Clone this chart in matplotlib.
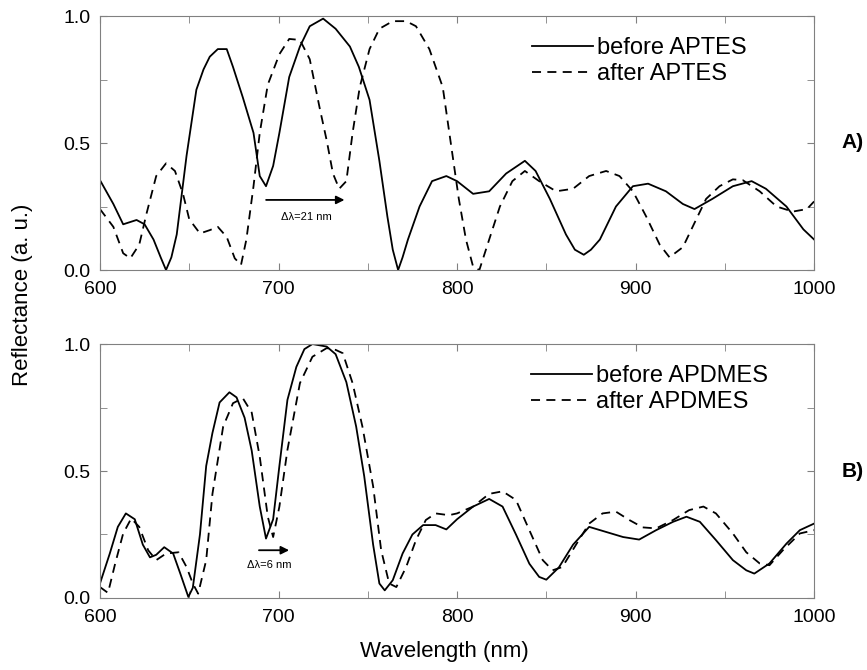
import matplotlib.pyplot as plt
from matplotlib.ticker import MultipleLocator

plt.rcParams['font.family'] = ['Liberation Sans', 'DejaVu Sans']

# ---- panel A: APTES ----
wl_a_before = [600, 607.5, 613, 620.5, 625, 630, 634, 637, 640, 643, 648.5, 654, 658, 661.5,
               666, 671, 674.5, 680, 686, 689.5, 693, 697, 700.5, 706, 712, 717.5, 725,
               732, 740, 745, 751, 756.5, 761, 764, 767, 769.5, 772.5, 779, 786, 794, 800,
               809, 818, 827.5, 838, 844, 852, 861, 866, 871, 875, 880, 889, 898.5, 907,
               917, 926.5, 933, 943, 954.5, 965, 973, 984.5, 994, 1000]
r_a_before = [0.354, 0.26, 0.18, 0.197, 0.18, 0.12, 0.05, 0.0, 0.05, 0.14, 0.45, 0.71, 0.79,
              0.84, 0.87, 0.87, 0.80, 0.68, 0.54, 0.37, 0.33, 0.41, 0.54, 0.76, 0.88, 0.96,
              0.99, 0.95, 0.88, 0.80, 0.67, 0.43, 0.21, 0.08, 0.0, 0.05, 0.12, 0.25, 0.35,
              0.37, 0.35, 0.30, 0.31, 0.38, 0.43, 0.39, 0.28, 0.14, 0.08, 0.06, 0.08, 0.12,
              0.25, 0.33, 0.34, 0.31, 0.26, 0.24, 0.28, 0.33, 0.35, 0.32, 0.25, 0.16, 0.12]

wl_a_after = [600, 607.5, 613, 617, 622, 626, 631.5, 637, 642, 646.5, 650, 656, 661.5, 666,
              671, 675.5, 679, 682, 686, 689.5, 694, 700.5, 706, 712, 717.5, 723, 727,
              730.5, 734, 738, 741.5, 745.5, 751, 756.5, 764, 771.5, 777, 784.5, 792,
              796.5, 801, 805, 809, 812.5, 818, 824, 831, 838, 846, 855.5, 865, 874,
              883.5, 891, 898.5, 906, 913.5, 919, 926.5, 934, 939.5, 947, 954.5, 960,
              969.5, 979, 988, 996, 1000]
r_a_after = [0.24, 0.17, 0.066, 0.046, 0.10, 0.22, 0.37, 0.42, 0.39, 0.30, 0.20, 0.144, 0.157,
             0.17, 0.13, 0.046, 0.02, 0.12, 0.33, 0.54, 0.73, 0.85, 0.91, 0.906, 0.83, 0.64,
             0.51, 0.38, 0.32, 0.35, 0.54, 0.72, 0.87, 0.95, 0.98, 0.98, 0.96, 0.87, 0.72,
             0.50, 0.28, 0.12, 0.013, 0.0, 0.12, 0.25, 0.35, 0.39, 0.35, 0.31, 0.32, 0.37,
             0.39, 0.37, 0.31, 0.21, 0.10, 0.05, 0.09, 0.20, 0.28, 0.33, 0.357, 0.354,
             0.31, 0.25, 0.23, 0.24, 0.27]

# ---- panel B: APDMES ----
wl_b_before = [600, 605.5, 610, 614.5, 619.5, 624, 628, 631.5, 636, 641, 645, 649.5, 652,
               656, 659.5, 663, 667, 672.5, 676.5, 681, 685, 689.5, 693, 697, 700.5, 705,
               710, 714.5, 719, 727, 732, 738, 743.5, 748, 753, 756.5, 759.5, 764, 769.5,
               775, 781, 788, 794, 800, 809, 818, 825.5, 833, 840.5, 846, 850, 857, 865,
               874, 883.5, 893, 902, 911.5, 921, 928.5, 936, 945, 954.5, 962, 966.5, 975,
               984.5, 992, 1000]
r_b_before = [0.057, 0.175, 0.28, 0.333, 0.31, 0.21, 0.16, 0.17, 0.20, 0.175, 0.096, 0.004,
              0.04, 0.25, 0.52, 0.65, 0.77, 0.81, 0.79, 0.71, 0.58, 0.36, 0.234, 0.31, 0.52,
              0.78, 0.91, 0.98, 1.0, 0.99, 0.96, 0.85, 0.675, 0.48, 0.21, 0.057, 0.03, 0.07,
              0.175, 0.25, 0.287, 0.287, 0.27, 0.31, 0.36, 0.39, 0.36, 0.25, 0.135, 0.083,
              0.072, 0.12, 0.21, 0.28, 0.26, 0.24, 0.23, 0.267, 0.30, 0.32, 0.30, 0.228,
              0.149, 0.109, 0.096, 0.136, 0.214, 0.267, 0.293]

wl_b_after = [600, 604.5, 608.5, 613, 617.5, 622, 627, 631.5, 637, 644, 648.5, 652, 655,
              659.5, 663, 669, 674.5, 680, 685, 689.5, 694, 697, 700.5, 705, 712, 719,
              727, 732, 736, 741.5, 747, 753, 757.5, 762, 766, 771.5, 777, 782.5, 788,
              795.5, 800, 809, 818, 825.5, 833, 840.5, 848, 853.5, 859, 867, 874, 881.5,
              889, 896.5, 904, 911.5, 921, 930, 938, 945, 954.5, 962, 969.5, 975, 982.5,
              992, 1000]
r_b_after = [0.043, 0.02, 0.135, 0.254, 0.313, 0.28, 0.188, 0.149, 0.175, 0.18, 0.122, 0.057,
             0.017, 0.149, 0.41, 0.675, 0.767, 0.787, 0.73, 0.556, 0.32, 0.24, 0.36, 0.583,
             0.846, 0.95, 0.984, 0.977, 0.964, 0.846, 0.675, 0.44, 0.188, 0.057, 0.043,
             0.122, 0.228, 0.307, 0.333, 0.326, 0.333, 0.36, 0.41, 0.42, 0.386, 0.267,
             0.149, 0.109, 0.122, 0.214, 0.293, 0.333, 0.34, 0.307, 0.278, 0.274, 0.307,
             0.346, 0.36, 0.333, 0.254, 0.18, 0.136, 0.129, 0.188, 0.254, 0.267]

fig = plt.figure(figsize=(8.67, 6.7), dpi=100)
ax1 = fig.add_axes([0.1153, 0.597, 0.8237, 0.379])
ax2 = fig.add_axes([0.1153, 0.1075, 0.8237, 0.379])

dash = (0, (5, 3.5))
ax1.plot(wl_a_before, r_a_before, color='black', lw=1.3, label='before APTES')
ax1.plot(wl_a_after, r_a_after, color='black', lw=1.3, ls=dash, label='after APTES')
ax2.plot(wl_b_before, r_b_before, color='black', lw=1.3, label='before APDMES')
ax2.plot(wl_b_after, r_b_after, color='black', lw=1.3, ls=dash, label='after APDMES')

for ax, anchor_x in ((ax1, 0.935), (ax2, 0.965)):
    ax.set_xlim(600, 1000)
    ax.set_ylim(0, 1.0)
    ax.xaxis.set_major_locator(MultipleLocator(100))
    ax.xaxis.set_minor_locator(MultipleLocator(50))
    ax.yaxis.set_major_locator(MultipleLocator(0.5))
    ax.yaxis.set_minor_locator(MultipleLocator(0.25))
    ax.yaxis.set_major_formatter(plt.FormatStrFormatter('%.1f'))
    ax.tick_params(which='both', direction='in', top=True, right=True,
                   color='#808080', labelsize=14, length=5)
    ax.tick_params(axis='x', pad=8)
    ax.tick_params(axis='y', pad=7)
    for sp in ax.spines.values():
        sp.set_color('#808080')
    ax.legend(loc='upper right', bbox_to_anchor=(anchor_x, 1.0), frameon=False,
              fontsize=17, handlelength=2.6, handletextpad=0.15, labelspacing=0.15)

ax1.annotate('', xy=(738.5, 0.276), xytext=(691.5, 0.276),
             arrowprops=dict(arrowstyle='-|>', color='black', lw=1.3, mutation_scale=12))
ax1.text(715.5, 0.21, 'Δλ=21 nm', fontsize=8, ha='center', va='center')
ax2.annotate('', xy=(707.5, 0.188), xytext=(687.5, 0.188),
             arrowprops=dict(arrowstyle='-|>', color='black', lw=1.3, mutation_scale=12))
ax2.text(695, 0.129, 'Δλ=6 nm', fontsize=8, ha='center', va='center')

fig.text(0.983, 0.787, 'A)', fontsize=15, fontweight='bold', ha='center', va='center')
fig.text(0.984, 0.296, 'B)', fontsize=15, fontweight='bold', ha='center', va='center')
fig.text(0.026, 0.56, 'Reflectance (a. u.)', fontsize=16, rotation=90,
         ha='center', va='center')
fig.text(0.513, 0.028, 'Wavelength (nm)', fontsize=16, ha='center', va='center')

fig.savefig('out.png', dpi=100)
